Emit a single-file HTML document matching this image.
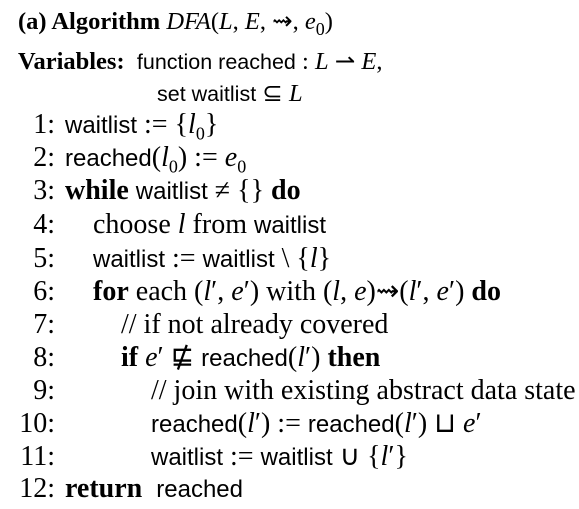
<!DOCTYPE html>
<html><head><meta charset="utf-8"><style>
body{margin:0;width:579px;height:509px;background:#fff;overflow:hidden;font-family:"Liberation Serif",serif;font-size:28px;color:#000}
.l{position:absolute;white-space:nowrap;line-height:1}
.n{position:absolute;width:55px;text-align:right;left:0;line-height:1}
.s{font-family:"Liberation Sans",sans-serif;font-size:24px}
.h{font-size:24.5px}
.h .s{font-size:21.5px}
sub{font-size:18px;line-height:0}
i{font-style:italic}
b{font-weight:bold}
</style></head><body>
<div class="l h" style="left:18px;top:10px"><b>(a) Algorithm</b> <i>DFA</i>(<i>L</i>, <i>E</i>, ⇝, <i>e</i><sub>0</sub>)</div>
<div class="l h" style="left:18px;top:50px"><b>Variables:</b>&nbsp; <span class="s">function reached</span> : <i>L</i> ⇀ <i>E</i>,</div>
<div class="l h" style="left:157px;top:82px"><span class="s">set waitlist</span> ⊆ <i>L</i></div>

<div class="n" style="top:111px">1:</div><div class="l" style="left:65px;top:111px"><span class="s">waitlist</span> := {<i>l</i><sub>0</sub>}</div>
<div class="n" style="top:144px">2:</div><div class="l" style="left:65px;top:144px"><span class="s">reached</span>(<i>l</i><sub>0</sub>) := <i>e</i><sub>0</sub></div>
<div class="n" style="top:177px">3:</div><div class="l" style="left:65px;top:177px"><b>while</b> <span class="s">waitlist</span> ≠ {} <b>do</b></div>
<div class="n" style="top:211px">4:</div><div class="l" style="left:93px;top:211px">choose <i>l</i> from <span class="s">waitlist</span></div>
<div class="n" style="top:245px">5:</div><div class="l" style="left:93px;top:245px"><span class="s">waitlist</span> := <span class="s">waitlist</span> \ {<i>l</i>}</div>
<div class="n" style="top:278px">6:</div><div class="l" style="left:93px;top:278px"><b>for</b> each (<i>l</i>′, <i>e</i>′) with (<i>l</i>, <i>e</i>)⇝(<i>l</i>′, <i>e</i>′) <b>do</b></div>
<div class="n" style="top:311px">7:</div><div class="l" style="left:121px;top:311px">// if not already covered</div>
<div class="n" style="top:344px">8:</div><div class="l" style="left:121px;top:344px"><b>if</b> <i>e</i>′ ⋢ <span class="s">reached</span>(<i>l</i>′) <b>then</b></div>
<div class="n" style="top:377px">9:</div><div class="l" style="left:151px;top:377px">// join with existing abstract data state</div>
<div class="n" style="top:410px">10:</div><div class="l" style="left:151px;top:410px"><span class="s">reached</span>(<i>l</i>′) := <span class="s">reached</span>(<i>l</i>′) ⊔ <i>e</i>′</div>
<div class="n" style="top:443px">11:</div><div class="l" style="left:151px;top:443px"><span class="s">waitlist</span> := <span class="s">waitlist</span> ∪ {<i>l</i>′}</div>
<div class="n" style="top:475px">12:</div><div class="l" style="left:65px;top:475px"><b>return</b>&nbsp; <span class="s">reached</span></div>
</body></html>
